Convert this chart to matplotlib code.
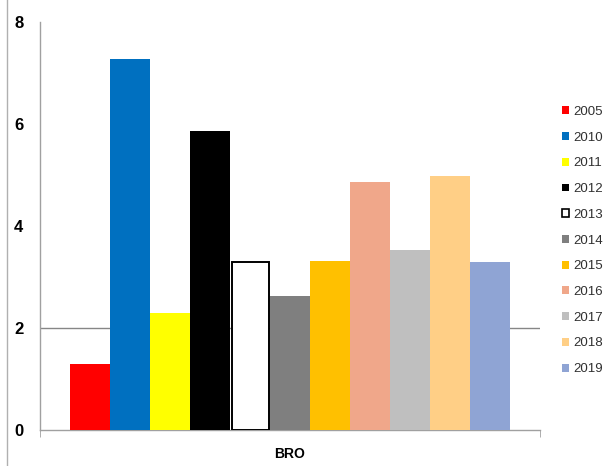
import numpy as np
import matplotlib
matplotlib.use('Agg')
import matplotlib.pyplot as plt
from matplotlib.lines import Line2D
from matplotlib.patches import Patch

plt.rcParams['font.family'] = ['Liberation Sans', 'DejaVu Sans']

# 数据
category = 'BRO'
years = ['2005', '2010', '2011', '2012', '2013', '2014',
         '2015', '2016', '2017', '2018', '2019']
values = [1.3, 7.28, 2.3, 5.87, 3.3, 2.62, 3.31, 4.87, 3.53, 4.99, 3.29]
colors = ['#FF0000', '#0070C0', '#FFFF00', '#000000', '#FFFFFF', '#7F7F7F',
          '#FFC000', '#F0A78A', '#BFBFBF', '#FFCF86', '#8FA4D4']
y_ticks = [0, 2, 4, 6, 8]

fig = plt.figure(figsize=(6.06, 4.66), dpi=100)
ax = fig.add_axes([40 / 606, 36 / 466, 500 / 606, 408 / 466])

bar_w = 0.08
n = len(years)
for i, (yr, v, c) in enumerate(zip(years, values, colors)):
    x = (i - (n - 1) / 2) * bar_w
    if c == '#FFFFFF':
        ax.bar(x, v, width=bar_w - 0.006, color=c, edgecolor='black',
               linewidth=1.4, label=yr, zorder=3)
    else:
        ax.bar(x, v, width=bar_w, color=c, linewidth=0, label=yr, zorder=3)

ax.axhline(2, color='#868686', linewidth=1.0, zorder=1)

ax.set_xlim(-0.5, 0.5)
ax.set_ylim(0, 8)
ax.set_yticks(y_ticks)
ax.set_yticklabels([str(t) for t in y_ticks], fontweight='bold', fontsize=12)
ax.tick_params(axis='y', length=0, pad=12)
ax.set_xticks([0])
ax.set_xticklabels([category], fontweight='bold', fontsize=10)
ax.tick_params(axis='x', length=0, pad=12)
ax.set_xticks([-0.5, 0.5], minor=True)
ax.tick_params(axis='x', which='minor', length=5, color='#A0A0A0', direction='out')

for s in ('top', 'right'):
    ax.spines[s].set_visible(False)
for s in ('left', 'bottom'):
    ax.spines[s].set_color('#A0A0A0')
    ax.spines[s].set_linewidth(1.0)

# 左侧外框线
fig.add_artist(Line2D([7 / 606, 7 / 606], [0, 1], transform=fig.transFigure,
                      color='#B0B0B0', linewidth=1.0))

handles = []
for yr, c in zip(years, colors):
    if c == '#FFFFFF':
        handles.append(Patch(facecolor='white', edgecolor='black', linewidth=1.2, label=yr))
    else:
        handles.append(Patch(facecolor=c, edgecolor='none', label=yr))
fig.legend(handles=handles, loc='upper left', bbox_to_anchor=(562 / 606, 1 - 106 / 466),
           frameon=False, fontsize=9.5, handlelength=0.55, handleheight=0.55,
           handletextpad=0.3, labelspacing=1.04, borderaxespad=0, borderpad=0,
           labelcolor='#303030')

fig.savefig('out.png', dpi=100)
plt.close(fig)
